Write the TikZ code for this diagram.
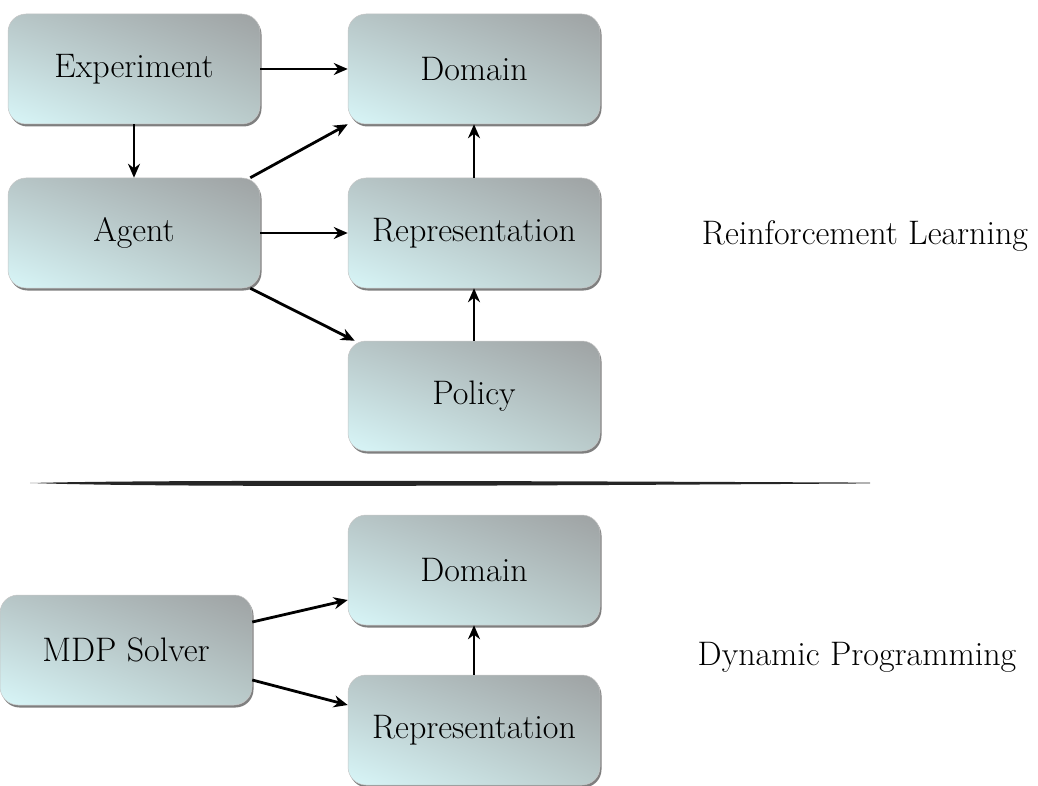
\documentclass[tikz,border=0pt]{standalone}
\usepackage{fontspec}
\usepackage{xcolor}
\usepackage{tikz}
\usetikzlibrary{positioning, shapes, arrows.meta, calc, shadows, shadings}

\definecolor{boxcyan}{HTML}{D8F6F8}
\definecolor{boxgray}{HTML}{9EA2A3}
\definecolor{boxmidA}{HTML}{B7C6C7}
\definecolor{boxmidB}{HTML}{BACBCB}

\tikzset{
  blockbox/.style={rounded corners=18pt, draw=gray!45, line width=0.5pt,
    minimum width=252pt, minimum height=110pt,
    lower left=boxcyan, upper right=boxgray, upper left=boxmidA, lower right=boxmidB,
    drop shadow={shadow xshift=1.5pt, shadow yshift=-2.5pt, fill=black, opacity=0.5},
    font=\fontsize{34}{40}\selectfont},
  link/.style={-{Stealth[length=14pt,width=12pt]}, line width=2.8pt},
  caption/.style={font=\fontsize{34}{40}\selectfont}
}

\begin{document}
\begin{tikzpicture}[x=1pt, y=-1pt]
  \useasboundingbox (0,0) rectangle (1038,786);

  % reinforcement learning
  \node[blockbox] (exp)   at (134,69)  {Experiment};
  \node[blockbox] (dom)   at (474,69)  {Domain};
  \node[blockbox] (agent) at (134,233) {Agent};
  \node[blockbox] (rep)   at (474,233) {Representation};
  \node[blockbox] (pol)   at (474,396) {Policy};
  \node[caption]  (rl)    at (865,236) {Reinforcement Learning};

  \draw[link] (exp.east) -- (dom.west);
  \draw[link] (exp.south) -- (agent.north);
  \draw[link] ([xshift=-10pt]agent.north east) -- (dom.south west);
  \draw[link] (agent.east) -- (rep.west);
  \draw[link] ([xshift=-10pt]agent.south east) -- ([xshift=7pt]pol.north west);
  \draw[link] (rep.north) -- (dom.south);
  \draw[link] (pol.north) -- (rep.south);

  % divider
  \fill[black!85] (30,483) .. controls (150,480) and (420,480.5) .. (870,482.6)
    -- (870,483.4) .. controls (420,486.5) and (150,487) .. cycle;

  % dynamic programming
  \node[blockbox] (mdp)  at (126,650) {MDP Solver};
  \node[blockbox] (dom2) at (474,570) {Domain};
  \node[blockbox] (rep2) at (474,730) {Representation};
  \node[caption]  (dp)   at (857,657) {Dynamic Programming};

  \draw[link] ([yshift=28pt]mdp.east) -- ([yshift=-30pt]dom2.west);
  \draw[link] ([yshift=-30pt]mdp.east) -- ([yshift=25pt]rep2.west);
  \draw[link] (rep2.north) -- (dom2.south);
\end{tikzpicture}
\end{document}
